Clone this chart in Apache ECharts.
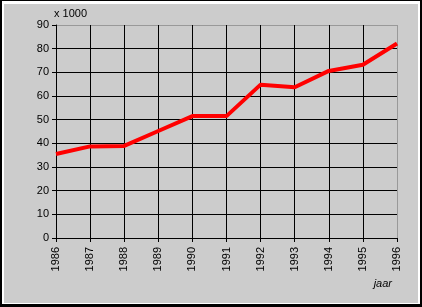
<!DOCTYPE html>
<html>
<head>
<meta charset="utf-8">
<script src="https://cdn.jsdelivr.net/npm/echarts@6/dist/echarts.min.js"></script>
<style>
html,body{margin:0;padding:0;width:422px;height:307px;overflow:hidden;background:#000;}
#white{position:absolute;left:2px;top:1px;width:418px;height:303px;background:#fff;}
#gray{position:absolute;left:4px;top:4px;width:414px;height:299px;background:#cccccc;}
#chart{position:absolute;left:0;top:0;width:422px;height:307px;}
</style>
</head>
<body>
<div id="white"></div>
<div id="gray"></div>
<div id="chart"></div>
<script>
const years = ['1986','1987','1988','1989','1990','1991','1992','1993','1994','1995','1996'];
const values = [35.5, 38.7, 38.9, 45.2, 51.5, 51.5, 64.8, 63.7, 70.6, 73.2, 82.2];
const yTicks = [0, 10, 20, 30, 40, 50, 60, 70, 80, 90];
const yUnit = 'x 1000';
const xName = 'jaar';

const font = 'Liberation Sans, Arial, sans-serif';
const chart = echarts.init(document.getElementById('chart'), null, {renderer: 'canvas'});
const xSplitColors = years.map((y, i) => i === years.length - 1 ? '#999999' : '#000000');
const ySplitColors = yTicks.map((v, i) => i === yTicks.length - 1 ? '#999999' : '#000000');
chart.setOption({
  animation: false,
  backgroundColor: 'transparent',
  title: {
    text: xName, right: 25, top: 273,
    textStyle: {fontFamily: font, fontSize: 11, fontStyle: 'italic', fontWeight: 'normal', color: '#000'}
  },
  grid: {left: 56, right: 25, top: 25, bottom: 69, containLabel: false},
  xAxis: {
    type: 'category', data: years, boundaryGap: false,
    axisLine: {lineStyle: {color: '#000', width: 1}},
    axisTick: {show: true, length: 4, lineStyle: {color: '#000'}},
    axisLabel: {rotate: 90, margin: 9, fontFamily: font, fontSize: 11, color: '#000'},
    splitLine: {show: true, lineStyle: {color: xSplitColors, width: 1}}
  },
  yAxis: {
    type: 'value', min: 0, max: 90, interval: 10,
    name: yUnit, nameLocation: 'end', nameGap: 5,
    nameTextStyle: {fontFamily: font, fontSize: 11, color: '#000', align: 'left', padding: [0, 0, 0, -2]},
    axisLine: {show: true, lineStyle: {color: '#000', width: 1}},
    axisTick: {show: true, length: 4, lineStyle: {color: '#000'}},
    axisLabel: {margin: 7, fontFamily: font, fontSize: 11, color: '#000'},
    splitLine: {show: true, lineStyle: {color: ySplitColors, width: 1}}
  },
  series: [{
    type: 'line', data: values, symbol: 'none',
    lineStyle: {color: '#ff0000', width: 4}, z: 5
  }]
});
</script>
</body>
</html>
